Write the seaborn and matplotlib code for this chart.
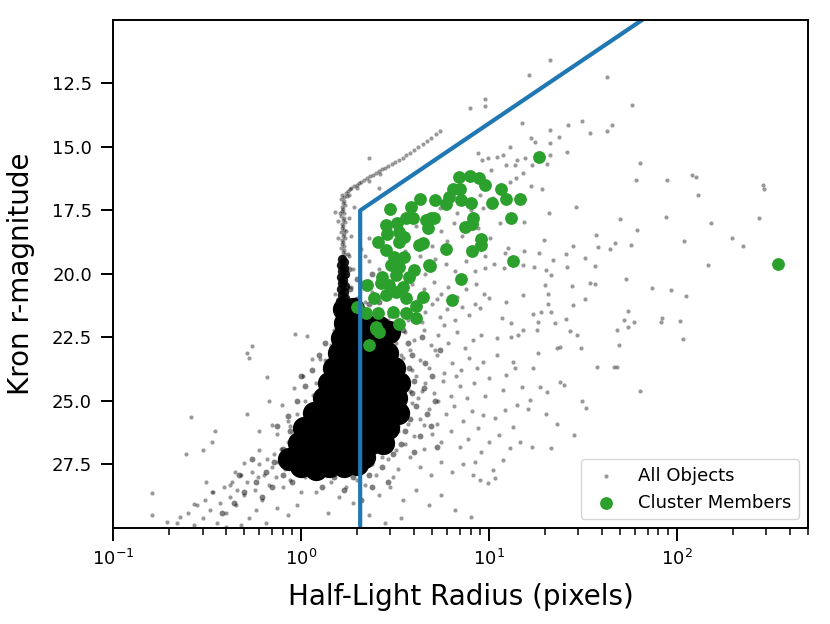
import numpy as np
import matplotlib
matplotlib.use("Agg")
import matplotlib.pyplot as plt
import seaborn as sns

# ---- data (half-light radius [px], Kron r mag) ----

# selection boundary
bound_r = [2.07, 2.07, 100.0]
bound_mag = [31.0, 17.5, 9.08]

# cluster members
members = [
    (18.6, 15.39), (6.91, 16.17), (7.98, 16.13), (8.84, 16.24), (9.55, 16.48),
    (11.6, 16.66), (12.4, 17.03), (14.7, 17.06), (6.48, 16.67), (7.00, 16.66),
    (6.18, 16.96), (5.89, 17.26), (7.08, 17.09), (8.08, 17.20), (10.4, 17.20),
    (13.2, 17.81), (5.19, 17.09), (4.31, 17.06), (3.86, 17.35), (2.98, 17.46),
    (2.84, 18.08), (3.25, 18.01), (3.63, 17.81), (3.94, 17.81), (2.89, 18.41),
    (3.34, 18.34), (4.64, 17.88), (4.94, 17.81), (5.14, 17.79), (4.73, 18.21),
    (8.24, 17.79), (7.44, 18.14), (8.11, 18.05), (2.56, 18.76), (2.84, 19.06),
    (3.34, 18.73), (3.56, 18.54), (4.28, 18.87), (4.45, 18.80), (5.89, 19.00),
    (9.14, 18.64), (9.14, 18.87), (8.18, 19.10), (13.5, 19.50), (3.14, 19.32),
    (3.56, 19.32), (3.02, 19.65), (3.34, 19.72), (4.02, 19.85), (4.80, 19.65),
    (2.72, 20.11), (3.21, 20.05), (3.78, 20.11), (7.14, 20.20), (2.26, 20.44),
    (2.67, 20.37), (2.95, 20.44), (3.48, 20.50), (2.46, 20.96), (2.84, 20.83),
    (3.21, 20.70), (3.63, 20.96), (4.45, 20.90), (6.40, 21.03), (2.00, 21.29),
    (2.22, 21.55), (2.56, 21.55), (3.08, 21.49), (3.63, 21.55), (4.11, 21.27),
    (4.11, 21.72), (3.34, 21.99), (2.51, 22.08), (2.61, 22.28), (2.31, 22.78),
    (2.51, 22.15), (348.0, 19.59), (4.84, 19.68),
]

# stellar locus, dense lower part
locus = [
    (1.66, 19.40), (1.70, 19.52), (1.64, 19.64), (1.69, 19.76), (1.66, 19.88),
    (1.71, 20.00), (1.63, 20.12), (1.68, 20.24), (1.66, 20.36), (1.71, 20.48),
    (1.63, 20.60), (1.69, 20.72), (1.65, 20.84), (1.72, 20.96), (1.62, 21.08),
    (1.68, 21.20), (1.65, 21.32), (1.72, 21.44), (1.61, 21.56), (1.68, 21.68),
    (1.64, 21.80), (1.73, 21.92), (1.60, 22.04), (1.68, 22.16), (1.64, 22.28),
    (1.70, 22.40),
]

# stellar locus, thinner upper part
upper_locus = [
    (1.66, 16.90), (1.70, 16.98), (1.64, 17.06), (1.69, 17.14), (1.67, 17.22),
    (1.71, 17.30), (1.65, 17.38), (1.68, 17.46), (1.66, 17.54), (1.70, 17.62),
    (1.64, 17.70), (1.69, 17.78), (1.67, 17.86), (1.71, 17.94), (1.65, 18.02),
    (1.68, 18.10), (1.66, 18.18), (1.70, 18.26), (1.64, 18.34), (1.69, 18.42),
    (1.67, 18.50), (1.71, 18.58), (1.65, 18.66), (1.68, 18.74), (1.66, 18.82),
    (1.70, 18.90), (1.64, 18.98), (1.69, 19.06), (1.67, 19.14), (1.71, 19.22),
    (1.65, 19.30), (1.68, 19.38),
]

# saturated stars bending to the upper right
bend = [
    (1.74, 16.80), (1.78, 16.72), (1.82, 16.66), (1.86, 16.60), (1.92, 16.55),
    (1.98, 16.48), (2.04, 16.42), (2.10, 16.38), (2.18, 16.30), (2.26, 16.22),
    (2.34, 16.16), (2.42, 16.10), (2.50, 16.02), (2.60, 15.96), (2.70, 15.88),
    (2.80, 15.82), (2.92, 15.74), (3.05, 15.66), (3.18, 15.58), (3.32, 15.50),
    (3.48, 15.42), (3.65, 15.32), (3.82, 15.22), (4.00, 15.12), (4.20, 15.00),
    (4.45, 14.88), (4.70, 14.76), (4.95, 14.65), (5.25, 14.50), (5.50, 14.38),
    (1.76, 16.95), (1.80, 16.88), (2.00, 16.60), (2.30, 16.35), (2.65, 16.05),
    (1.62, 17.60), (1.58, 17.90), (1.75, 18.30), (1.78, 19.20), (1.58, 18.60),
    (2.31, 15.43), (2.61, 16.63), (1.92, 17.35), (1.52, 17.55),
]

# bright, sparse objects (upper right)
bright = [
    (9.60, 13.13), (9.60, 13.37), (21.3, 11.59), (16.4, 12.17), (42.6, 12.24),
    (58.0, 13.34), (7.91, 13.48), (14.96, 14.07), (21.2, 14.34), (26.5, 14.14),
    (31.3, 13.98), (34.4, 14.44), (42.6, 14.36), (45.5, 14.14), (23.7, 14.60),
    (16.8, 14.63), (17.6, 14.80), (21.2, 14.86), (26.0, 15.19), (12.9, 14.99),
    (11.9, 15.32), (8.77, 15.23), (9.91, 15.45), (11.0, 15.39), (14.1, 15.52),
    (15.6, 15.45), (16.9, 15.72), (21.2, 15.32), (20.3, 15.69), (12.3, 15.72),
    (13.8, 15.72), (15.3, 16.04), (13.9, 16.21), (12.9, 16.37), (16.8, 16.54),
    (19.1, 16.67), (21.0, 17.59), (29.1, 17.38), (15.4, 17.94), (50.2, 17.85),
    (61.6, 18.28), (64.2, 15.65), (60.9, 16.31), (88.4, 16.31), (121.0, 16.11),
    (126.0, 16.17), (130.0, 16.90), (87.4, 17.75), (152.0, 17.98), (109.0, 18.71),
    (197.0, 18.57), (226.0, 18.89), (273.0, 17.78), (287.0, 16.48), (291.0, 16.66),
    (37.2, 18.45), (46.8, 18.80), (57.0, 18.87), (38.0, 18.93), (44.0, 19.00),
    (28.2, 18.91), (19.7, 18.67), (15.4, 19.10), (18.6, 19.19), (25.8, 19.23),
    (12.2, 19.19), (12.6, 18.97), (9.32, 17.39), (10.25, 15.91), (9.21, 15.52),
]

# fainter sparse objects (right side)
faint = [
    (146.0, 19.65), (36.6, 19.68), (32.6, 19.39), (26.0, 19.72), (22.1, 19.46),
    (17.5, 19.72), (20.2, 19.85), (15.3, 19.65), (12.0, 19.78), (9.52, 19.76),
    (54.0, 20.18), (74.1, 20.54), (93.7, 20.64), (112.0, 20.87), (34.7, 20.37),
    (36.9, 20.41), (27.7, 20.46), (55.2, 21.46), (52.3, 21.82), (59.2, 21.88),
    (48.2, 22.21), (55.0, 22.08), (83.9, 21.72), (82.1, 21.91), (104.0, 21.84),
    (108.0, 22.58), (49.4, 22.80), (37.7, 23.65), (46.2, 23.68), (48.2, 23.65),
    (64.2, 24.60), (31.3, 25.01), (33.0, 25.27), (28.6, 26.35), (23.2, 25.89),
    (21.5, 26.84), (25.3, 24.38), (24.0, 24.24), (20.5, 24.64), (18.7, 24.44),
    (20.2, 25.52), (27.1, 22.25), (29.4, 22.41), (31.0, 22.93), (24.0, 22.87),
    (23.0, 22.93), (25.8, 21.79), (22.5, 21.95), (28.2, 21.23), (32.6, 21.00),
    (20.7, 21.20), (19.0, 21.49), (21.4, 21.49), (17.3, 21.56), (15.3, 20.81),
    (20.6, 20.78), (19.9, 20.44), (21.5, 20.05), (18.3, 21.88), (18.0, 22.21),
    (18.3, 23.13), (17.3, 23.72), (13.5, 23.46), (13.8, 23.69), (12.4, 23.96),
    (15.0, 24.44), (16.6, 24.97), (16.2, 25.30), (14.1, 25.16), (13.5, 26.02),
    (14.7, 26.61), (16.9, 26.80), (12.9, 26.87), (11.9, 27.33), (10.5, 27.72),
    (10.8, 28.05), (9.91, 28.25), (9.00, 28.12), (8.24, 27.92), (8.08, 29.56),
    (10.0, 24.11), (11.0, 23.20), (11.9, 24.57), (9.32, 23.46), (13.2, 22.47),
    (15.3, 22.21), (13.2, 21.95), (12.4, 21.10), (10.0, 20.96), (9.00, 21.36),
    (11.7, 21.75), (14.3, 22.41), (11.0, 22.54), (9.14, 22.41), (9.32, 25.56),
    (10.8, 25.69), (12.2, 25.36), (11.4, 26.35), (10.0, 26.61), (8.77, 26.08),
    (9.14, 27.00), (8.41, 27.39),
]

# semi-dense halo around the galaxy core
halo = [
    (4.1, 18.1), (5.6, 18.3), (6.5, 18.0), (7.2, 18.5), (8.8, 18.2), (10.2, 18.6),
    (5.0, 18.9), (6.0, 18.7), (7.8, 19.0), (3.0, 18.2), (2.3, 18.6), (2.2, 19.3),
    (9.5, 19.3), (11.5, 18.0), (6.8, 17.6), (5.5, 17.4), (10.5, 17.0), (9.0, 16.9),
    (8.0, 17.5), (2.3, 19.5), (2.6, 19.8), (4.3, 19.3), (5.2, 19.4), (5.9, 19.6),
    (6.6, 19.9), (7.6, 19.5), (8.5, 19.9), (10.7, 19.6), (4.6, 20.0), (2.1, 19.0),
    (3.6, 19.1), (2.15, 20.3), (2.4, 20.7), (3.9, 20.4), (4.5, 20.6), (5.1, 20.3),
    (5.6, 20.8), (6.1, 20.5), (6.8, 20.9), (7.6, 20.6), (8.6, 20.4), (9.4, 20.8),
    (5.3, 21.0), (4.2, 21.0), (2.2, 21.1), (3.9, 21.3), (4.6, 21.5), (5.0, 21.2),
    (5.5, 21.7), (6.0, 21.4), (6.6, 21.8), (7.2, 21.3), (7.9, 21.6), (8.5, 21.2),
    (4.4, 21.9), (5.8, 22.0), (3.7, 21.8), (2.9, 21.8), (2.4, 22.0), (3.6, 22.3),
    (4.0, 22.6), (4.5, 22.2), (4.9, 22.8), (5.4, 22.4), (6.1, 22.7), (6.8, 22.3),
    (7.5, 22.9), (8.2, 22.6), (3.8, 23.0), (5.2, 23.0), (3.5, 23.3), (3.9, 23.8),
    (4.3, 23.4), (4.8, 23.7), (5.3, 23.2), (5.8, 23.9), (6.4, 23.5), (7.1, 23.8),
    (7.9, 23.3), (8.7, 23.7), (4.1, 24.0), (6.7, 24.0), (3.5, 24.2), (3.8, 24.6),
    (4.2, 24.9), (4.6, 24.3), (5.1, 24.7), (5.7, 24.2), (6.3, 24.8), (7.0, 24.4),
    (7.7, 24.9), (8.4, 24.3), (9.6, 24.8), (4.4, 24.6), (5.4, 25.0), (3.5, 25.4),
    (3.9, 25.1), (4.3, 25.7), (4.8, 25.3), (5.3, 25.9), (5.9, 25.5), (6.5, 25.2),
    (7.3, 25.8), (8.1, 25.4), (3.7, 25.9), (4.5, 25.95), (3.3, 26.2), (3.6, 26.7),
    (4.0, 26.4), (4.5, 26.9), (5.0, 26.3), (5.6, 26.6), (6.3, 26.2), (7.0, 26.8),
    (7.8, 26.5), (3.2, 26.95), (2.9, 27.3), (3.3, 27.7), (3.8, 27.2), (4.3, 27.6),
    (4.9, 27.9), (5.6, 27.4), (6.4, 27.8), (7.3, 27.5), (2.5, 27.9), (3.1, 28.0),
    (2.2, 28.3), (2.6, 28.7), (3.0, 28.4), (3.5, 28.9), (4.1, 28.5), (4.8, 29.1),
    (5.6, 28.7), (6.6, 29.3), (2.3, 29.5), (2.8, 29.8), (3.4, 29.6), (1.9, 29.0),
    (1.6, 28.8), (1.4, 29.4), (1.2, 28.6), (1.05, 28.0), (1.3, 27.9), (1.6, 27.8),
    (1.9, 27.7), (2.2, 27.6), (1.1, 27.5), (1.45, 28.2), (1.75, 28.4), (2.0, 28.1),
    (1.45, 22.9), (1.55, 22.6), (1.35, 23.8), (1.25, 24.6), (1.15, 25.3), (1.00, 25.9),
    (0.93, 26.3), (0.88, 27.0), (0.95, 27.6), (1.15, 27.8), (1.5, 27.9), (2.0, 27.8),
    (2.4, 27.5), (2.7, 27.2), (3.0, 26.7), (3.3, 26.0), (3.5, 25.6), (3.6, 24.9),
    (3.6, 24.4), (3.5, 23.8), (3.4, 23.2), (3.2, 22.7), (2.95, 22.4), (2.5, 22.5),
    (2.2, 22.3), (2.0, 22.4), (1.85, 22.2), (1.9, 21.6), (1.95, 21.0), (1.85, 20.5),
    (1.9, 19.8), (1.8, 19.3), (1.85, 18.5), (1.8, 17.8), (1.75, 20.1), (1.78, 21.2),
]

# faint tail towards small radii (lower left) and isolated objects
tail = [
    (0.22, 29.8), (0.25, 29.4), (0.27, 29.9), (0.28, 29.1), (0.30, 29.6), (0.31, 28.9),
    (0.33, 29.3), (0.34, 28.6), (0.36, 29.8), (0.37, 29.0), (0.39, 28.4), (0.40, 29.4),
    (0.42, 28.8), (0.43, 28.2), (0.45, 29.1), (0.46, 28.5), (0.48, 27.9), (0.50, 28.7),
    (0.52, 28.2), (0.53, 29.6), (0.55, 27.8), (0.57, 28.5), (0.59, 28.0), (0.60, 27.5),
    (0.62, 28.9), (0.64, 27.9), (0.66, 27.3), (0.68, 28.3), (0.70, 27.6), (0.72, 27.1),
    (0.74, 28.0), (0.76, 27.4), (0.78, 26.9), (0.80, 28.4), (0.82, 27.7), (0.84, 27.0),
    (0.86, 26.6), (0.88, 28.1), (0.90, 27.3), (0.92, 26.8), (0.95, 27.8), (0.98, 26.4),
    (1.00, 28.6), (0.75, 29.2), (0.58, 29.3), (0.85, 29.5), (0.65, 29.8), (0.95, 29.1),
    (0.48, 29.9), (0.40, 29.95),
    (0.937, 22.38), (1.08, 22.43), (0.549, 22.83), (0.516, 23.13), (0.527, 23.30),
    (0.66, 24.05), (0.519, 25.53), (0.26, 25.62), (0.35, 26.17), (0.338, 26.61),
    (0.30, 26.94), (0.246, 27.09), (0.162, 28.61), (0.162, 29.50), (0.193, 29.76),
    (0.227, 29.56), (0.271, 29.04), (0.313, 28.21), (0.335, 28.58), (0.42, 28.31),
    (0.448, 27.79), (0.496, 27.46), (0.596, 26.94), (0.703, 25.95), (0.794, 25.17),
    (0.918, 24.51), (1.03, 24.01), (1.15, 23.33), (1.27, 23.33), (1.16, 24.77),
    (1.30, 24.05), (0.60, 26.2), (0.75, 26.3), (0.85, 25.8), (0.95, 25.5),
    (1.05, 25.0), (1.2, 24.3), (1.35, 23.4), (1.45, 22.8), (1.5, 22.2),
    (1.55, 21.6), (1.52, 20.8), (0.68, 25.0), (0.88, 26.0),
]

# crowded zone just around the core
dense = [
    (3.5, 22.2), (3.7, 22.7), (3.9, 23.2), (3.75, 23.7), (4.0, 24.2), (3.9, 24.7),
    (4.1, 25.2), (3.8, 25.7), (3.6, 26.2), (3.4, 26.7), (3.1, 27.1), (4.4, 22.5),
    (4.6, 23.5), (4.5, 24.5), (4.7, 25.5), (4.3, 26.4), (4.0, 27.0), (5.0, 24.0),
    (5.2, 25.0), (4.9, 26.0), (5.5, 23.0), (5.3, 26.8), (4.2, 21.7), (3.2, 21.6),
    (2.7, 27.6), (2.3, 27.9), (1.9, 28.0), (1.5, 28.0), (1.2, 27.8), (2.9, 28.2),
    (2.4, 28.4), (1.7, 28.5), (1.3, 28.4), (2.1, 28.9),
    (0.88, 26.2), (0.85, 25.6), (0.95, 25.0), (1.05, 24.4), (1.15, 23.8), (1.25, 23.2),
    (1.35, 22.7), (0.80, 26.9), (0.90, 27.4), (1.05, 27.6), (0.75, 26.0), (1.00, 24.0),
    (0.72, 27.4), (0.65, 27.8), (0.58, 28.2), (0.50, 28.6), (0.44, 29.0), (0.38, 29.4),
    (0.80, 27.9), (0.70, 28.4), (0.62, 28.8), (0.90, 28.2), (0.55, 27.3), (0.47, 27.9),
    (1.80, 22.0), (1.95, 22.1), (2.2, 21.9), (2.5, 21.8), (2.8, 22.0), (3.0, 21.6),
    (1.85, 21.3), (2.0, 21.0), (2.3, 21.2), (2.6, 21.1), (1.82, 20.6), (2.0, 20.2),
    (2.4, 20.0), (1.80, 19.8),
]

# saturated (solid black) galaxy core
core = [
    (1.70, 21.40), (1.90, 21.40), (1.72, 21.95), (1.92, 21.95), (2.25, 22.05),
    (2.60, 22.10), (2.95, 22.30),
    (1.66, 22.54), (1.85, 22.54), (2.09, 22.54), (2.37, 22.54), (2.68, 22.54),
    (1.60, 23.13), (1.85, 23.13), (2.15, 23.13), (2.49, 23.13), (2.88, 23.13),
    (1.50, 23.72), (1.74, 23.72), (2.02, 23.72), (2.34, 23.72), (2.71, 23.72), (3.14, 23.72),
    (1.41, 24.31), (1.64, 24.31), (1.90, 24.31), (2.20, 24.31), (2.55, 24.31), (2.95, 24.31), (3.34, 24.31),
    (1.33, 24.90), (1.54, 24.90), (1.78, 24.90), (2.07, 24.90), (2.40, 24.90), (2.78, 24.90), (3.22, 24.90),
    (1.17, 25.49), (1.36, 25.49), (1.58, 25.49), (1.83, 25.49), (2.12, 25.49), (2.46, 25.49), (2.85, 25.49), (3.30, 25.49),
    (1.04, 26.08), (1.20, 26.08), (1.39, 26.08), (1.62, 26.08), (1.87, 26.08), (2.17, 26.08), (2.52, 26.08), (2.92, 26.08),
    (0.976, 26.67), (1.13, 26.67), (1.31, 26.67), (1.52, 26.67), (1.76, 26.67), (2.04, 26.67), (2.37, 26.67), (2.74, 26.67),
    (1.04, 27.19), (1.20, 27.19), (1.39, 27.19), (1.62, 27.19), (1.87, 27.19), (2.17, 27.19),
    (0.87, 27.30), (1.00, 27.55), (1.20, 27.70), (1.41, 27.55), (1.70, 27.55), (2.00, 27.50),
]

y_ticks = [12.5, 15.0, 17.5, 20.0, 22.5, 25.0, 27.5]

# ---- plot ----
sns.set_style("ticks", {"axes.edgecolor": "black", "text.color": "black",
                        "axes.labelcolor": "black", "xtick.color": "black",
                        "ytick.color": "black"})
plt.rcParams['font.family'] = ['DejaVu Sans']

fig, ax = plt.subplots(figsize=(8.3, 6.24), dpi=100)
fig.subplots_adjust(left=0.136, right=0.9735, top=0.968, bottom=0.154)

mem_r, mem_mag = np.array(members).T
loc_r, loc_mag = np.array(locus).T
core_r, core_mag = np.array(core).T
dense_r, dense_mag = np.array(dense).T
all_r, all_mag = np.array(upper_locus + bend + bright + faint + halo + tail).T

sns.scatterplot(x=all_r, y=all_mag, ax=ax, color='black', s=9, alpha=0.4,
                linewidth=0, label='All Objects')
h_all = ax.collections[-1]
sns.scatterplot(x=dense_r, y=dense_mag, ax=ax, color='black', s=18, alpha=0.5,
                linewidth=0)
sns.scatterplot(x=loc_r, y=loc_mag, ax=ax, color='black', s=45, alpha=0.9,
                linewidth=0)
sns.scatterplot(x=core_r, y=core_mag, ax=ax, color='black', s=280, alpha=1,
                linewidth=0)
sns.lineplot(x=bound_r, y=bound_mag, ax=ax, color='#1f77b4', lw=3,
             sort=False, estimator=None)
sns.scatterplot(x=mem_r, y=mem_mag, ax=ax, color='#2ca02c', s=85,
                linewidth=0, label='Cluster Members')
h_mem = ax.collections[-1]

ax.set_xscale('log')
ax.set_xlim(0.1, 500)
ax.set_ylim(30, 10)
ax.set_yticks(y_ticks)
ax.set_xlabel('Half-Light Radius (pixels)', fontsize=20, labelpad=10)
ax.set_ylabel('Kron r-magnitude', fontsize=20, labelpad=12)
ax.tick_params(axis='both', which='major', labelsize=13, length=9, width=1.4,
               pad=6)
ax.tick_params(axis='both', which='minor', length=5, width=1.1)
for sp in ax.spines.values():
    sp.set_linewidth(1.4)

ax.legend(handles=[h_all, h_mem], labels=['All Objects', 'Cluster Members'],
          loc='lower right', fontsize=13)

fig.savefig('out.png', dpi=100)
